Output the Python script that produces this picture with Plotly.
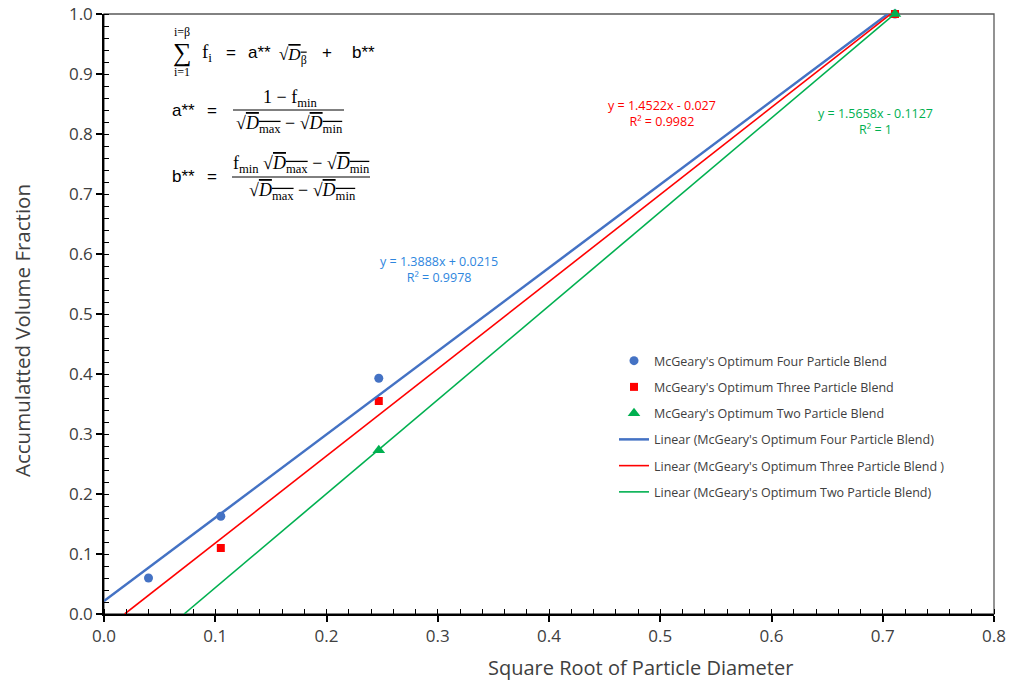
import plotly.graph_objects as go

# ---------------- data ----------------
four_x = [0.040, 0.105, 0.247, 0.711]
four_y = [0.060, 0.163, 0.393, 1.000]
three_x = [0.105, 0.247, 0.711]
three_y = [0.110, 0.355, 1.000]
two_x = [0.247, 0.711]
two_y = [0.273, 1.000]

# trendline coefficients (slope, intercept) as printed on the chart
fit_four = (1.3888, 0.0215)
fit_three = (1.4522, -0.027)
fit_two = (1.5658, -0.1127)

eq_four = ["y = 1.3888x + 0.0215", "R² = 0.9978"]
eq_three = ["y = 1.4522x - 0.027", "R² = 0.9982"]
eq_two = ["y = 1.5658x - 0.1127", "R² = 1"]

names = ["McGeary's Optimum Four Particle Blend",
         "McGeary's Optimum Three Particle Blend",
         "McGeary's Optimum Two Particle Blend"]
line_names = ["Linear (McGeary's Optimum Four Particle Blend)",
              "Linear (McGeary's Optimum Three Particle Blend )",
              "Linear (McGeary's Optimum Two Particle Blend)"]

x_title = "Square Root of Particle Diameter"
y_title = "Accumulatted Volume Fraction"

BLUE = "#4472C4"
RED = "#FF0000"
GREEN = "#00B050"

# ---------------- layout geometry (pixels) ----------------
W, H = 1020, 685
L, R, T, B = 104, 26, 14, 71
PW, PH = W - L - R, H - T - B


def px(x):
    return (x - L) / PW


def py(y):
    return (H - B - y) / PH


def trend(fit, xmax):
    m, b = fit
    x0 = max(0.0, -b / m)
    return [x0, xmax], [m * x0 + b, m * xmax + b]


fig = go.Figure()

fig.add_trace(go.Scatter(x=four_x, y=four_y, mode="markers", name=names[0],
                         legendgroup="a",
                         marker=dict(symbol="circle", size=9, color=BLUE),
                         cliponaxis=False))
fig.add_trace(go.Scatter(x=three_x, y=three_y, mode="markers", name=names[1],
                         legendgroup="b",
                         marker=dict(symbol="square", size=8, color=RED),
                         cliponaxis=False))
fig.add_trace(go.Scatter(x=two_x, y=two_y, mode="markers", name=names[2],
                         legendgroup="c",
                         marker=dict(symbol="triangle-up", size=11, color=GREEN),
                         cliponaxis=False))

for fit, xs, col, nm, g, w in [(fit_four, four_x, BLUE, line_names[0], "d", 2.5),
                              (fit_three, three_x, RED, line_names[1], "e", 1.6),
                              (fit_two, two_x, GREEN, line_names[2], "f", 1.6)]:
    lx, ly = trend(fit, max(xs))
    fig.add_trace(go.Scatter(x=lx, y=ly, mode="lines", name=nm, legendgroup=g,
                             line=dict(color=col, width=w)))

FONT = "Open Sans, Arial, sans-serif"
TXT = "#404040"

ann = []
# trendline equations
for lines, cx, cy, col in [(eq_four, 439, 269, "#2E86DE"),
                           (eq_three, 662, 113, RED),
                           (eq_two, 875, 121, GREEN)]:
    ann.append(dict(x=px(cx), y=py(cy), xref="paper", yref="paper",
                    xanchor="center", yanchor="middle",
                    text="<br>".join(lines), showarrow=False,
                    font=dict(family=FONT, size=12.5, color=col), align="center"))

# axis titles
ann.append(dict(x=px(640), y=py(667), xref="paper", yref="paper",
                xanchor="center", yanchor="middle", text=x_title, showarrow=False,
                font=dict(family=FONT, size=20, color=TXT)))
ann.append(dict(x=px(22), y=py(331), xref="paper", yref="paper", textangle=-90,
                xanchor="center", yanchor="middle", text=y_title, showarrow=False,
                font=dict(family=FONT, size=20.5, color=TXT)))

SANS = "Liberation Sans, Arial, sans-serif"
SERIF = "Liberation Serif, Times New Roman, serif"
BLK = "#000000"


def t(text, x, y, size=16, fam=SANS, xa="center"):
    ann.append(dict(x=px(x), y=py(y), xref="paper", yref="paper", text=text,
                    showarrow=False, xanchor=xa, yanchor="middle",
                    font=dict(family=fam, size=size, color=BLK)))


OL = "<span style='text-decoration:overline'>"
SQD = "√" + OL + "<i>D</i><sub>{}</sub></span>"
# line 1
t("∑", 182, 53, size=26, fam=SERIF)
t("i=β", 182, 32, size=12, fam=SERIF)
t("i=1", 182, 72, size=12, fam=SERIF)
t("f<sub>i</sub>", 207, 53, size=19, fam=SERIF)
t("=", 231, 53, size=17)
t("a**", 259, 53, size=17)
t(SQD.format("β"), 293, 56, size=17, fam=SERIF)
t("+", 327, 53, size=17)
t("b**", 363, 53, size=17)
# line 2
t("a**", 183, 110, size=17)
t("=", 212, 110, size=17)
t("1 − f<sub>min</sub>", 290, 98, size=18, fam=SERIF)
t(SQD.format("max") + " − " + SQD.format("min"), 289, 124, size=18, fam=SERIF)
# line 3
t("b**", 183, 177, size=17)
t("=", 212, 177, size=17)
t("f<sub>min</sub> " + SQD.format("max") + " − " + SQD.format("min"),
  301, 164, size=18, fam=SERIF)
t(SQD.format("max") + " − " + SQD.format("min"), 302, 191, size=18, fam=SERIF)

shapes = [
    dict(type="line", xref="paper", yref="paper", x0=px(233), x1=px(344),
         y0=py(110), y1=py(110), line=dict(color=BLK, width=1)),
    dict(type="line", xref="paper", yref="paper", x0=px(232), x1=px(370),
         y0=py(177), y1=py(177), line=dict(color=BLK, width=1)),
    # border of plot area
    dict(type="rect", xref="paper", yref="paper", x0=0, x1=1, y0=0, y1=1,
         line=dict(color="#595959", width=1.3), layer="below"),
]

fig.update_layout(
    width=W, height=H,
    margin=dict(l=L, r=R, t=T, b=B, pad=0, autoexpand=False),
    paper_bgcolor="white", plot_bgcolor="white",
    font=dict(family=FONT, color=TXT),
    showlegend=True,
    legend=dict(x=px(614), y=py(346), xanchor="left", yanchor="top",
                font=dict(family=FONT, size=12.5, color=TXT),
                tracegroupgap=7, bgcolor="rgba(0,0,0,0)"),
    annotations=ann,
    shapes=shapes,
)

fig.update_xaxes(range=[0, 0.8], dtick=0.1, tickformat=".1f", automargin=False,
                 showgrid=False, zeroline=False,
                 showline=True, linecolor="#000000", linewidth=1.5,
                 ticks="outside", ticklen=6, tickwidth=1.5, tickcolor="#000000",
                 minor=dict(dtick=0.02, ticks="inside", ticklen=5, tickwidth=1.2,
                            tickcolor="#000000", showgrid=False),
                 tickfont=dict(family=FONT, size=17, color="#404040"))
fig.update_yaxes(range=[0, 1.0], dtick=0.1, tickformat=".1f", automargin=False,
                 showgrid=False, zeroline=False,
                 showline=True, linecolor="#000000", linewidth=1.5,
                 ticks="outside", ticklen=6, tickwidth=1.5, tickcolor="#000000",
                 minor=dict(dtick=0.02, ticks="inside", ticklen=5, tickwidth=1.2,
                            tickcolor="#000000", showgrid=False),
                 tickfont=dict(family=FONT, size=17, color="#404040"))

fig.write_html("out.html")
